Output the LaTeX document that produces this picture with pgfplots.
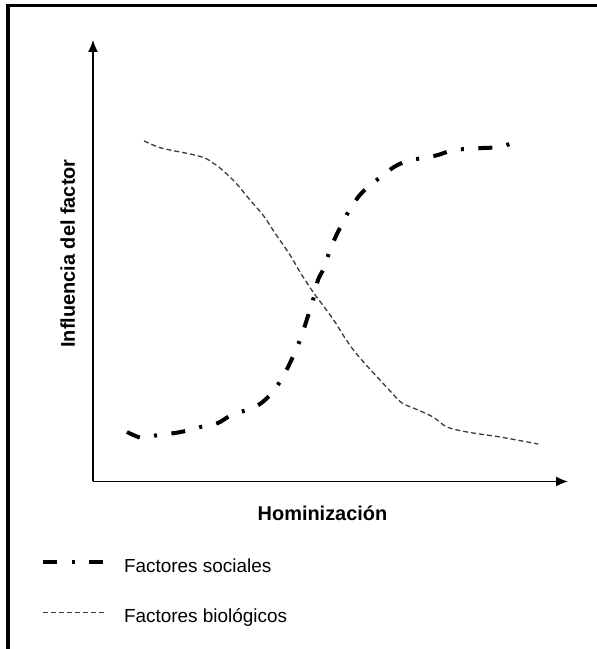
\documentclass[border=0pt]{standalone}
\usepackage{pgfplots}
\pgfplotsset{compat=1.18}
\usetikzlibrary{arrows.meta}
\usepackage{fontspec}
\setmainfont{Liberation Sans}
\definecolor{biogray}{HTML}{3A3A3A}
\begin{document}
\begin{tikzpicture}
\path[use as bounding box] (0,0) rectangle (597bp,649bp);
\draw[line width=4bp] (8bp,0) -- (8bp,645bp);
\draw[line width=3bp] (6bp,643.5bp) -- (597bp,643.5bp);
\begin{axis}[
  at={(93bp,167.5bp)}, anchor=south west,
  x=1bp, y=1bp,
  xmin=0, xmax=475, ymin=0, ymax=441.5,
  axis lines=left,
  axis line style={line width=1.3bp, -{Latex[length=12bp,width=10bp]}},
  xtick=\empty, ytick=\empty,
  clip=false,
  xlabel={Hominización},
  ylabel={Influencia del factor},
  every axis x label/.style={at={(axis cs:229.5,-39.5)}, anchor=base, font=\fontsize{20}{24}\selectfont\bfseries},
  every axis y label/.style={at={(axis cs:-18,228)}, rotate=90, anchor=base, font=\fontsize{20}{24}\selectfont\bfseries},
  legend cell align=left,
  legend image code/.code={\draw[#1] (0bp,6bp) -- (62bp,6bp);},
  legend style={at={(axis cs:-52,-111.5)}, anchor=west, draw=none, fill=none,
    inner sep=0pt, outer sep=0pt, row sep=34pt, column sep=17bp,
    nodes={inner sep=0pt, text height=13pt, text depth=4pt},
    font=\fontsize{19}{22}\selectfont},
]
\addplot[black, line width=4bp, line cap=butt, dash pattern=on 14bp off 14.5bp on 3bp off 14.5bp, smooth, tension=0.5] coordinates {
(34,49.5) (49,43.5) (65,46.5) (82,48.5) (97,51.5) (111,55.5) (125,58.5) (140,67.5) (154,71.5) (167,77.5) (179,88.5) (188,101.5) (197,118.5) (207,141.5) (215,165.5) (220,181.5) (225,201.5) (231,213.5) (237,231.5) (243,245.5) (250,259.5) (257,272.5) (266,285.5) (276,295.5) (289,305.5) (301,314.5) (314,320.5) (330,323.5) (345,326.5) (360,331.5) (375,332.5) (390,333.5) (407,334.5) (422,339.5)
};
\addlegendentry{Factores sociales}
\addplot[biogray, line width=1.3bp, dash pattern=on 5bp off 3bp, smooth, tension=0.5] coordinates {
(51,340.5) (65,334.5) (77,331.5) (97,327.5) (112,323.5) (120,318.5) (127,313.5) (142,299.5) (157,281.5) (170,266.5) (182,248.5) (197,226.5) (207,209.5) (220,189.5) (232,173.5) (242,159.5) (252,143.5) (262,129.5) (275,114.5) (287,101.5) (299,88.5) (309,78.5) (325,71.5) (340,64.5) (354,54.5) (374,49.5) (407,44.5) (445,37.5)
};
\addlegendentry{Factores biológicos}
\end{axis}
\end{tikzpicture}
\end{document}
